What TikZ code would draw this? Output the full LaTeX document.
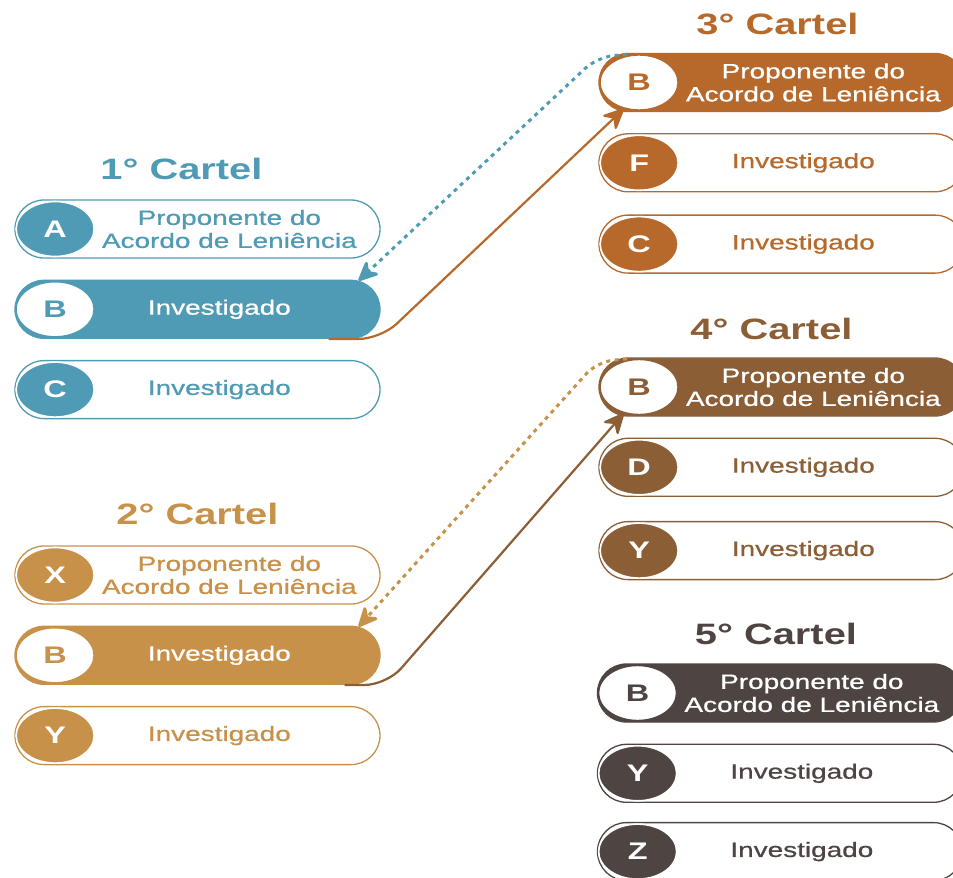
\documentclass[tikz,border=0pt]{standalone}
\usepackage{fontspec}
\setmainfont{Liberation Sans}[FakeStretch=1.35]
\newfontfamily\medfont{Liberation Sans}[FakeStretch=1.35,FakeBold=0.8]
\usepackage{tikz}
\usetikzlibrary{arrows.meta,positioning,shapes.geometric}
\definecolor{cteal}{HTML}{4F9BB5}
\definecolor{cgold}{HTML}{C8914A}
\definecolor{corange}{HTML}{B6692A}
\definecolor{cbrown}{HTML}{8B5E35}
\definecolor{cdark}{HTML}{4E4542}

\begin{document}
\begin{tikzpicture}[
  x=1pt, y=-1pt, node distance=21pt,
  pill/.style={draw=#1, line width=1.3pt, rounded corners=29pt,
               minimum width=365pt, minimum height=58pt, inner sep=0pt},
  pillon/.style={pill=#1, fill=#1},
  key/.style={ellipse, fill=#1, draw=white, line width=1.6pt, text=white,
              minimum width=78pt, minimum height=55pt, inner sep=0pt,
              font=\fontsize{24}{24}\selectfont\bfseries},
  keyon/.style={key=#1, fill=white, draw=#1, line width=1.4pt, text=#1},
  lbl/.style={text=#1, align=center, inner sep=0pt,
              font=\fontsize{20.7}{23}\medfont},
  head/.style={text=#1, inner sep=0pt, font=\fontsize{29.5}{30}\selectfont\bfseries},
  tip/.style={-{Stealth[length=24pt,width=22pt,inset=8pt,round]}},
  link/.style={tip, draw=#1, line width=2.2pt, rounded corners=22pt},
  back/.style={tip, draw=#1, line width=3pt, dash pattern=on 4pt off 4.5pt,
               rounded corners=16pt}
]
\useasboundingbox (0,0) rectangle (953,878);
\clip (0,0) rectangle (953,878);

% 1o cartel
\node[pill=cteal] (p1a) at (197.5,229) {};
\node[pillon=cteal, below=of p1a] (p1b) {};
\node[pill=cteal, below=of p1b] (p1c) {};
\node[head=cteal, above=19pt of p1a, xshift=-16pt] (h1) {1° Cartel};
\node[key=cteal, right=1pt of p1a.west] (k1a) {A};
\node[keyon=cteal, right=1pt of p1b.west] (k1b) {B};
\node[key=cteal, right=1pt of p1c.west] (k1c) {C};
\node[lbl=cteal] at ([xshift=215pt]p1a.west) {Proponente do\\Acordo de Leniência};
\node[lbl=white] at ([xshift=205pt]p1b.west) {Investigado};
\node[lbl=cteal] at ([xshift=205pt]p1c.west) {Investigado};

% 2o cartel
\node[pill=cgold] (p2a) at (197.5,575) {};
\node[pillon=cgold, below=of p2a] (p2b) {};
\node[pill=cgold, below=of p2b] (p2c) {};
\node[head=cgold, above=20pt of p2a] (h2) {2° Cartel};
\node[key=cgold, right=1pt of p2a.west] (k2a) {X};
\node[keyon=cgold, right=1pt of p2b.west] (k2b) {B};
\node[key=cgold, right=1pt of p2c.west] (k2c) {Y};
\node[lbl=cgold] at ([xshift=215pt]p2a.west) {Proponente do\\Acordo de Leniência};
\node[lbl=white] at ([xshift=205pt]p2b.west) {Investigado};
\node[lbl=cgold] at ([xshift=205pt]p2c.west) {Investigado};

% 3o cartel
\node[pillon=corange] (p3a) at (781.5,82.5) {};
\node[pill=corange, below=of p3a] (p3b) {};
\node[pill=corange, below=22pt of p3b] (p3c) {};
\node[head=corange, above=18pt of p3a, xshift=-4pt] (h3) {3° Cartel};
\node[keyon=corange, right=1pt of p3a.west] (k3a) {B};
\node[key=corange, right=1pt of p3b.west] (k3b) {F};
\node[key=corange, right=1pt of p3c.west] (k3c) {C};
\node[lbl=white] at ([xshift=215pt]p3a.west) {Proponente do\\Acordo de Leniência};
\node[lbl=corange] at ([xshift=205pt]p3b.west) {Investigado};
\node[lbl=corange] at ([xshift=205pt]p3c.west) {Investigado};

% 4o cartel
\node[pillon=cbrown] (p4a) at (781.5,387) {};
\node[pill=cbrown, below=of p4a] (p4b) {};
\node[pill=cbrown, below=24pt of p4b] (p4c) {};
\node[head=cbrown, above=17pt of p4a, xshift=-10pt] (h4) {4° Cartel};
\node[keyon=cbrown, right=1pt of p4a.west] (k4a) {B};
\node[key=cbrown, right=1pt of p4b.west] (k4b) {D};
\node[key=cbrown, right=1pt of p4c.west] (k4c) {Y};
\node[lbl=white] at ([xshift=215pt]p4a.west) {Proponente do\\Acordo de Leniência};
\node[lbl=cbrown] at ([xshift=205pt]p4b.west) {Investigado};
\node[lbl=cbrown] at ([xshift=205pt]p4c.west) {Investigado};

% 5o cartel
\node[pillon=cdark] (p5a) at (780,693) {};
\node[pill=cdark, below=of p5a] (p5b) {};
\node[pill=cdark, below=19pt of p5b] (p5c) {};
\node[head=cdark, above=18pt of p5a, xshift=-4pt] (h5) {5° Cartel};
\node[keyon=cdark, right=1pt of p5a.west] (k5a) {B};
\node[key=cdark, right=1pt of p5b.west] (k5b) {Y};
\node[key=cdark, right=1pt of p5c.west] (k5c) {Z};
\node[lbl=white] at ([xshift=215pt]p5a.west) {Proponente do\\Acordo de Leniência};
\node[lbl=cdark] at ([xshift=205pt]p5b.west) {Investigado};
\node[lbl=cdark] at ([xshift=205pt]p5c.west) {Investigado};

% ligacoes
\draw[back=cteal] ([xshift=-12pt]k3a.north) -- ++(-30,3) -- ([xshift=-22pt,yshift=-1pt]p1b.north east);
\draw[link=corange] ([xshift=-52pt]p1b.south east) -- ++(52,0) -- (k3a.240);
\draw[back=cgold] ([xshift=-12pt]k4a.north) -- ++(-30,3) -- ([xshift=-22pt,yshift=-1pt]p2b.north east);
\draw[link=cbrown] ([xshift=-36pt]p2b.south east) -- ++(42,0) -- (k4a.240);
\end{tikzpicture}
\end{document}
